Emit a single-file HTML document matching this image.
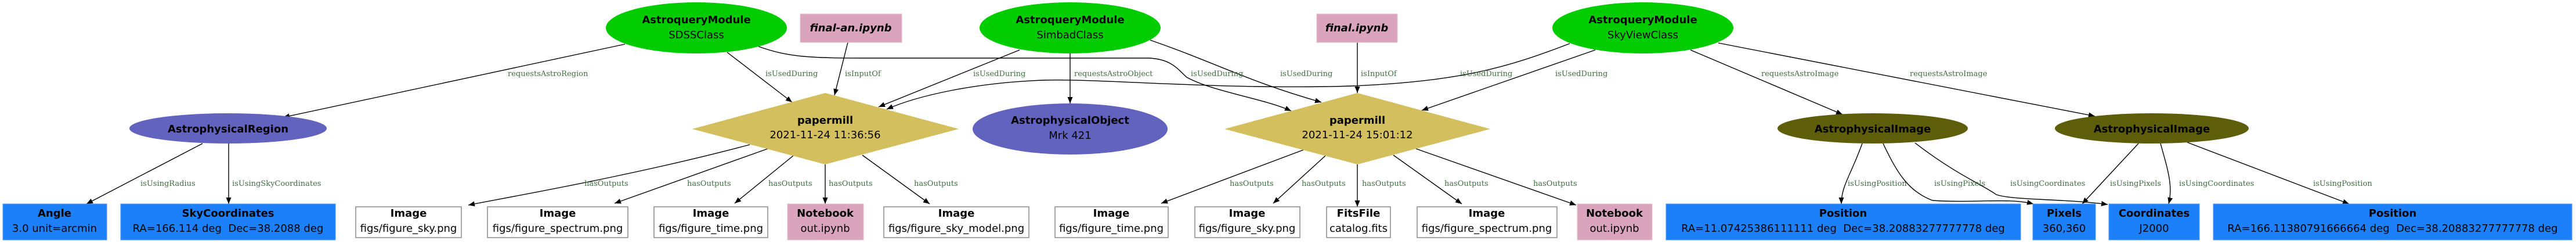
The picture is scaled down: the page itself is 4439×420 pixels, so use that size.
<!DOCTYPE html>
<html><head><meta charset="utf-8"><style>
html,body{margin:0;padding:0;background:#fff;}
svg{display:block;}
.n{font-family:"DejaVu Sans","Liberation Sans",sans-serif;font-size:18px;fill:#000;text-anchor:middle;}
.b{font-weight:bold;}
.l{font-family:"DejaVu Serif","Liberation Serif",serif;font-size:13px;fill:#406f40;}
.e{fill:none;stroke:#000;stroke-width:1.4;marker-end:url(#a);}
.w{fill:#fff;stroke:#888;stroke-width:1.5;}
.bl{fill:#1c80fa;stroke:#4a9afc;stroke-width:1;}
.pk{fill:#dba4bd;stroke:#e6c0d0;stroke-width:1;}
</style></head><body>
<svg width="4439" height="420" viewBox="0 0 4439 420" xmlns="http://www.w3.org/2000/svg">
<defs><marker id="a" markerUnits="userSpaceOnUse" markerWidth="12" markerHeight="9" refX="11" refY="4.5" orient="auto"><path d="M0,0 L11,4.5 L0,9 z" fill="#000"/></marker></defs>

<!-- edges -->
<path class="e" d="M1077,76 L488,202"/>
<path class="e" d="M1253,90 L1365,176"/>
<path class="e" d="M1307,80 C1360,99 1400,100 1500,100 L1980,100 C2020,102 2030,120 2045,133 C2090,158 2180,170 2225,191"/>
<path class="e" d="M1982,69 C2100,110 2150,140 2277,176"/>
<path class="e" d="M1461,73 L1438,164"/>
<path class="e" d="M1757,86 L1514,184"/>
<path class="e" d="M1844,92 L1844,178"/>
<path class="e" d="M2705,75 C2600,115 2520,140 2330,148 C2100,155 1900,135 1800,138 C1680,142 1580,165 1528,188"/>
<path class="e" d="M2749,86 L2450,190"/>
<path class="e" d="M2913,86 L3175,197"/>
<path class="e" d="M2961,74 L3610,200"/>
<path class="e" d="M2339,73 L2339,160"/>
<path class="e" d="M349,247 L149,351"/>
<path class="e" d="M394,247 L394,351"/>
<path class="e" d="M1292,249 C1100,300 900,335 807,353"/>
<path class="e" d="M1323,256 L1059,350"/>
<path class="e" d="M1367,268 L1266,350"/>
<path class="e" d="M1422,283 L1422,351"/>
<path class="e" d="M1486,267 L1602,351"/>
<path class="e" d="M2246,258 L2001,350"/>
<path class="e" d="M2284,268 L2194,350"/>
<path class="e" d="M2339,283 L2339,356"/>
<path class="e" d="M2401,267 L2519,351"/>
<path class="e" d="M2440,256 L2716,353"/>
<path class="e" d="M3209,247 C3190,300 3173,320 3173,351"/>
<path class="e" d="M3245,247 C3270,300 3290,330 3330,345 C3400,350 3460,340 3504,351"/>
<path class="e" d="M3300,246 C3370,300 3420,320 3440,335 C3470,345 3560,342 3632,352"/>
<path class="e" d="M3685,247 L3588,351"/>
<path class="e" d="M3723,247 C3735,290 3745,320 3737,351"/>
<path class="e" d="M3769,245 L4048,351"/>

<!-- top nodes -->
<ellipse cx="1200" cy="48" rx="156" ry="44" fill="#00cc00"/>
<text class="n b" x="1200" y="40">AstroqueryModule</text><text class="n" x="1200" y="66">SDSSClass</text>
<ellipse cx="1844" cy="48" rx="156" ry="44" fill="#00cc00"/>
<text class="n b" x="1844" y="40">AstroqueryModule</text><text class="n" x="1844" y="66">SimbadClass</text>
<ellipse cx="2831" cy="48" rx="156" ry="44" fill="#00cc00"/>
<text class="n b" x="2831" y="40">AstroqueryModule</text><text class="n" x="2831" y="66">SkyViewClass</text>
<rect class="pk" x="1379" y="24" width="175" height="49"/>
<text class="n b" x="1466" y="54" font-style="italic">final-an.ipynb</text>
<rect class="pk" x="2269" y="24" width="139" height="49"/>
<text class="n b" x="2338" y="54" font-style="italic">final.ipynb</text>

<!-- middle nodes -->
<ellipse cx="393" cy="221" rx="170" ry="26" fill="#6262bf"/>
<text class="n b" x="393" y="228">AstrophysicalRegion</text>
<polygon points="1422,160 1652,222 1422,283 1193,222" fill="#d4bf5e"/>
<text class="n b" x="1422" y="213">papermill</text><text class="n" x="1422" y="238">2021-11-24 11:36:56</text>
<ellipse cx="1844" cy="222" rx="168" ry="44" fill="#6262bf"/>
<text class="n b" x="1844" y="213">AstrophysicalObject</text><text class="n" x="1844" y="239">Mrk 421</text>
<polygon points="2339,160 2568,222 2339,283 2110,222" fill="#d4bf5e"/>
<text class="n b" x="2339" y="213">papermill</text><text class="n" x="2339" y="238">2021-11-24 15:01:12</text>
<ellipse cx="3227" cy="221" rx="164" ry="26" fill="#5e5e0a"/>
<text class="n b" x="3227" y="228">AstrophysicalImage</text>
<ellipse cx="3708" cy="221" rx="167" ry="26" fill="#5e5e0a"/>
<text class="n b" x="3708" y="228">AstrophysicalImage</text>

<!-- bottom nodes -->
<rect class="bl" x="5" y="351" width="179" height="62"/>
<text class="n b" x="94" y="373">Angle</text><text class="n" x="94" y="399">3.0 unit=arcmin</text>
<rect class="bl" x="208" y="351" width="370" height="62"/>
<text class="n b" x="393" y="373">SkyCoordinates</text><text class="n" x="393" y="399" xml:space="preserve">RA=166.114 deg  Dec=38.2088 deg</text>
<rect class="w" x="613" y="356" width="182" height="53"/>
<text class="n b" x="704" y="373">Image</text><text class="n" x="704" y="399">figs/figure_sky.png</text>
<rect class="w" x="840" y="356" width="242" height="53"/>
<text class="n b" x="961" y="373">Image</text><text class="n" x="961" y="399">figs/figure_spectrum.png</text>
<rect class="w" x="1127" y="356" width="196" height="53"/>
<text class="n b" x="1225" y="373">Image</text><text class="n" x="1225" y="399">figs/figure_time.png</text>
<rect class="pk" x="1357" y="351" width="131" height="62"/>
<text class="n b" x="1422" y="373">Notebook</text><text class="n" x="1422" y="399">out.ipynb</text>
<rect class="w" x="1523" y="356" width="250" height="53"/>
<text class="n b" x="1648" y="373">Image</text><text class="n" x="1648" y="399">figs/figure_sky_model.png</text>
<rect class="w" x="1818" y="356" width="195" height="53"/>
<text class="n b" x="1915" y="373">Image</text><text class="n" x="1915" y="399">figs/figure_time.png</text>
<rect class="w" x="2059" y="356" width="181" height="53"/>
<text class="n b" x="2149" y="373">Image</text><text class="n" x="2149" y="399">figs/figure_sky.png</text>
<rect class="w" x="2286" y="356" width="110" height="53"/>
<text class="n b" x="2341" y="373">FitsFile</text><text class="n" x="2341" y="399">catalog.fits</text>
<rect class="w" x="2442" y="356" width="241" height="53"/>
<text class="n b" x="2562" y="373">Image</text><text class="n" x="2562" y="399">figs/figure_spectrum.png</text>
<rect class="pk" x="2718" y="351" width="129" height="62"/>
<text class="n b" x="2782" y="373">Notebook</text><text class="n" x="2782" y="399">out.ipynb</text>
<rect class="bl" x="2871" y="351" width="611" height="62"/>
<text class="n b" x="3176" y="373">Position</text><text class="n" x="3176" y="399" xml:space="preserve">RA=11.07425386111111 deg  Dec=38.20883277777778 deg</text>
<rect class="bl" x="3503" y="351" width="108" height="62"/>
<text class="n b" x="3557" y="373">Pixels</text><text class="n" x="3557" y="399">360,360</text>
<rect class="bl" x="3634" y="351" width="156" height="62"/>
<text class="n b" x="3712" y="373">Coordinates</text><text class="n" x="3712" y="399">J2000</text>
<rect class="bl" x="3814" y="351" width="618" height="62"/>
<text class="n b" x="4123" y="373">Position</text><text class="n" x="4123" y="399" xml:space="preserve">RA=166.11380791666664 deg  Dec=38.20883277777778 deg</text>

<!-- labels -->
<text class="l" x="875" y="131">requestsAstroRegion</text>
<text class="l" x="1319" y="131">isUsedDuring</text>
<text class="l" x="1456" y="131">isInputOf</text>
<text class="l" x="1677" y="131">isUsedDuring</text>
<text class="l" x="1851" y="131">requestsAstroObject</text>
<text class="l" x="2052" y="131">isUsedDuring</text>
<text class="l" x="2206" y="131">isUsedDuring</text>
<text class="l" x="2345" y="131">isInputOf</text>
<text class="l" x="2516" y="131">isUsedDuring</text>
<text class="l" x="2680" y="131">isUsedDuring</text>
<text class="l" x="3035" y="131">requestsAstroImage</text>
<text class="l" x="3291" y="131">requestsAstroImage</text>

<text class="l" x="242" y="320">isUsingRadius</text>
<text class="l" x="400" y="320">isUsingSkyCoordinates</text>
<text class="l" x="1007" y="320">hasOutputs</text>
<text class="l" x="1184" y="320">hasOutputs</text>
<text class="l" x="1324" y="320">hasOutputs</text>
<text class="l" x="1428" y="320">hasOutputs</text>
<text class="l" x="1575" y="320">hasOutputs</text>
<text class="l" x="2119" y="320">hasOutputs</text>
<text class="l" x="2243" y="320">hasOutputs</text>
<text class="l" x="2347" y="320">hasOutputs</text>
<text class="l" x="2489" y="320">hasOutputs</text>
<text class="l" x="2642" y="320">hasOutputs</text>
<text class="l" x="3184" y="320">isUsingPosition</text>
<text class="l" x="3333" y="320">isUsingPixels</text>
<text class="l" x="3464" y="320">isUsingCoordinates</text>
<text class="l" x="3636" y="320">isUsingPixels</text>
<text class="l" x="3755" y="320">isUsingCoordinates</text>
<text class="l" x="3986" y="320">isUsingPosition</text>
</svg>
</body></html>
